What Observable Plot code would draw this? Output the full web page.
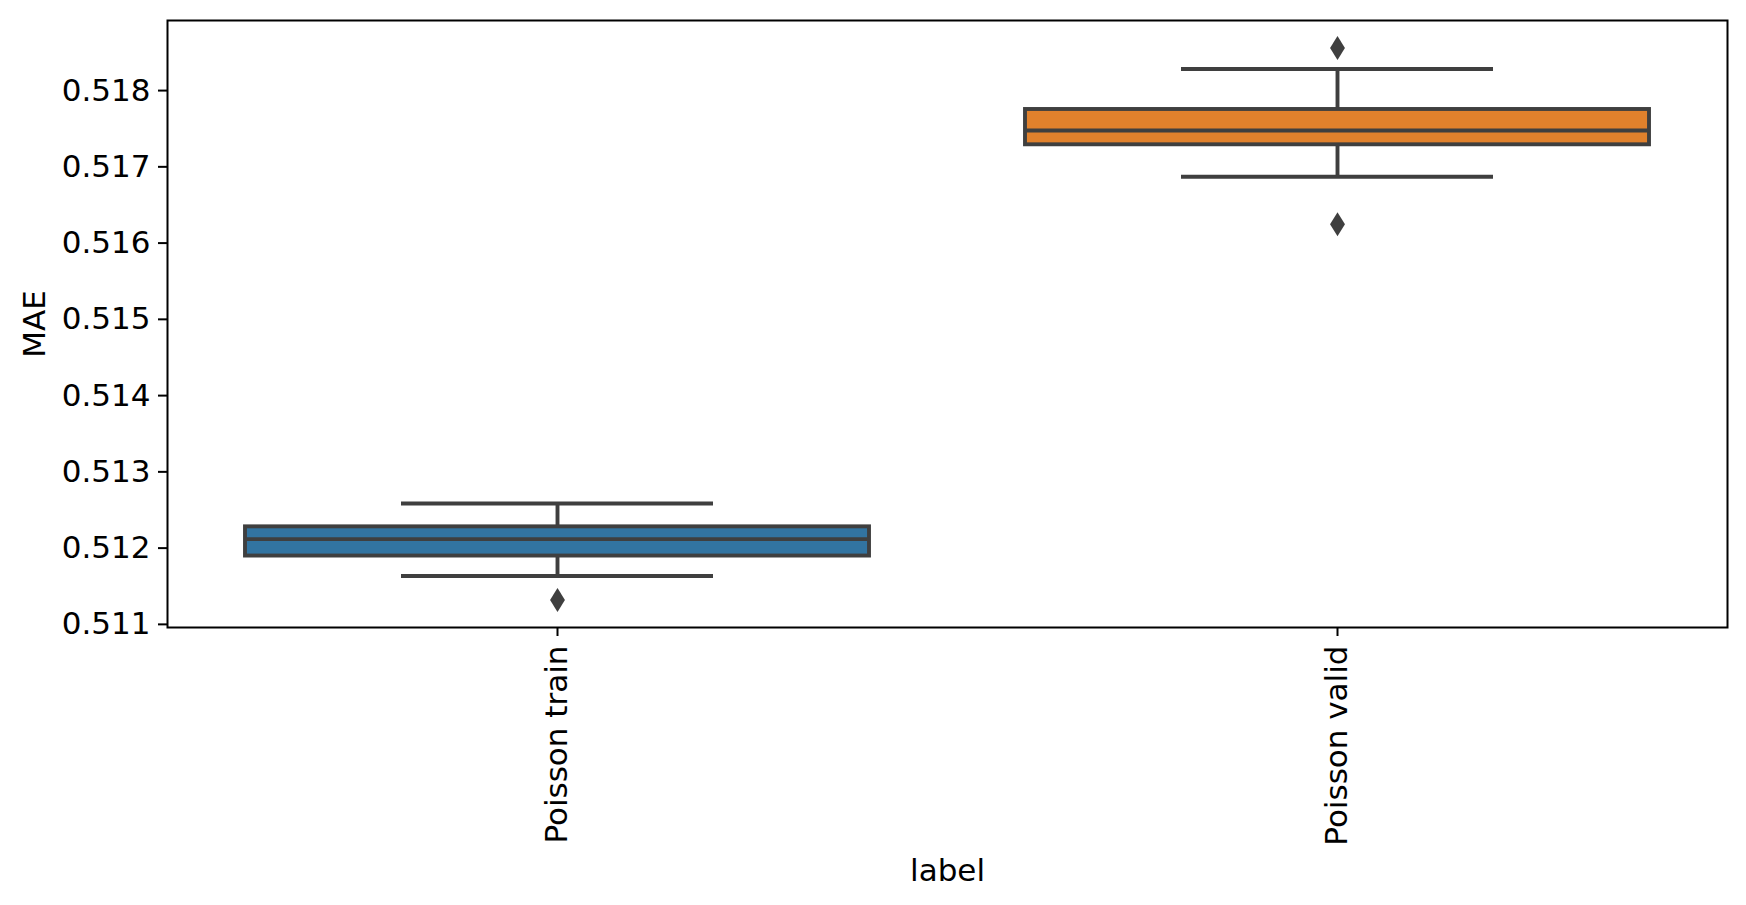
<!DOCTYPE html>
<html>
<head>
<meta charset="utf-8">
<script src="https://cdn.jsdelivr.net/npm/d3@7"></script>
<script src="https://cdn.jsdelivr.net/npm/@observablehq/plot@0.6"></script>
<style>
  html, body { margin: 0; padding: 0; background: #ffffff; }
  #chart svg { display: block; }
</style>
</head>
<body>
<div id="chart"></div>
<script>
// ---- data ----
const labels = ["Poisson train", "Poisson valid"];
const q1 = [0.511896, 0.517289];
const medians = [0.512118, 0.517477];
const q3 = [0.512279, 0.517752];
const whiskerLow = [0.511635, 0.516870];
const whiskerHigh = [0.512585, 0.518283];
const outlierLabels = ["Poisson train", "Poisson valid", "Poisson valid"];
const outlierValues = [0.511321, 0.518557, 0.516247];
const boxColors = ["#3274a1", "#e1812c"];
const yTicks = [0.511, 0.512, 0.513, 0.514, 0.515, 0.516, 0.517, 0.518];
const yDomain = [0.510959, 0.518919];

// ---- tables built from the arrays ----
const boxes = labels.map((label, i) => ({
  label, q1: q1[i], median: medians[i], q3: q3[i], lo: whiskerLow[i], hi: whiskerHigh[i]
}));
const outliers = outlierLabels.map((label, i) => ({label, value: outlierValues[i]}));

const W = 1746, H = 905;
const mL = 167, mR = 19, mT = 20, mB = 278;
const bw = (W - mL - mR) / labels.length;
const boxInset = bw * 0.1;
const capInset = bw * 0.3;
const edge = "#3f3f3f";
const lw = 3.9;

const thinDiamond = {
  draw(context, size) {
    const r = Math.sqrt(size / Math.PI);
    const w = r * 0.62;
    context.moveTo(0, -r);
    context.lineTo(w, 0);
    context.lineTo(0, r);
    context.lineTo(-w, 0);
    context.closePath();
  }
};

const chart = Plot.plot({
  width: W,
  height: H,
  marginLeft: mL,
  marginRight: mR,
  marginTop: mT,
  marginBottom: mB,
  style: {fontFamily: "DejaVu Sans", fontSize: "31px", color: "#000", background: "#fff"},
  x: {domain: labels, padding: 0, label: null},
  y: {domain: yDomain, label: null},
  color: {domain: labels, range: boxColors},
  marks: [
    Plot.ruleX(boxes, {x: "label", y1: "lo", y2: "hi", stroke: edge, strokeWidth: lw}),
    Plot.tickY(boxes, {x: "label", y: "lo", stroke: edge, strokeWidth: lw, insetLeft: capInset, insetRight: capInset}),
    Plot.tickY(boxes, {x: "label", y: "hi", stroke: edge, strokeWidth: lw, insetLeft: capInset, insetRight: capInset}),
    Plot.barY(boxes, {x: "label", y1: "q1", y2: "q3", fill: "label", stroke: edge, strokeWidth: lw, insetLeft: boxInset, insetRight: boxInset}),
    Plot.tickY(boxes, {x: "label", y: "median", stroke: edge, strokeWidth: lw, insetLeft: boxInset, insetRight: boxInset}),
    Plot.dot(outliers, {x: "label", y: "value", symbol: thinDiamond, r: 12, fill: edge, stroke: "none"}),
    Plot.frame({stroke: "#000", strokeWidth: 2}),
    Plot.axisY({
      ticks: yTicks, tickFormat: d3.format(".3f"), tickSize: 9, tickPadding: 8,
      fontSize: 31, stroke: "#000", strokeWidth: 2,
      label: "MAE", labelAnchor: "center", labelArrow: "none", labelOffset: 145
    }),
    Plot.axisX({
      tickSize: 9, tickPadding: 9, tickRotate: -90, fontSize: 31, stroke: "#000", strokeWidth: 2,
      label: "label", labelAnchor: "center", labelArrow: "none", labelOffset: 253
    })
  ]
});
document.getElementById("chart").appendChild(chart);
</script>
</body>
</html>
